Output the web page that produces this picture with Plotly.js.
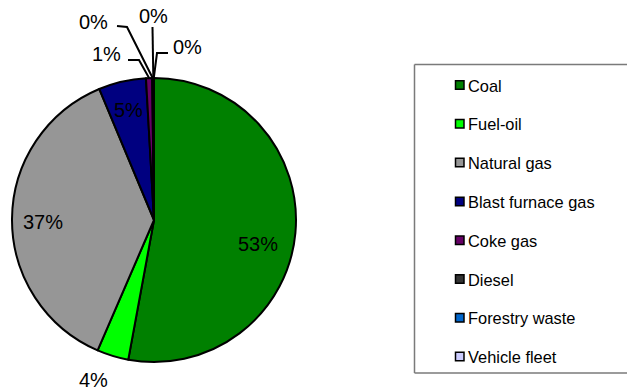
<!DOCTYPE html>
<html>
<head>
<meta charset="utf-8">
<script src="https://cdn.plot.ly/plotly-3.0.1.min.js"></script>
<style>
  html, body { margin: 0; padding: 0; background: #fff; overflow: hidden; }
  #chart { width: 627px; height: 391px; }
</style>
</head>
<body>
<div id="chart"></div>
<script>
// Energy sources and their share of consumption (%)
const fuels = ['Coal', 'Fuel-oil', 'Natural gas', 'Blast furnace gas', 'Coke gas', 'Diesel', 'Forestry waste', 'Vehicle fleet'];
const shares = [52.9, 3.6, 37.2, 5.4, 0.7, 0.1, 0.05, 0.05];
const fuelColors = ['#008000', '#00ff00', '#969696', '#000080', '#660066', '#333333', '#0066cc', '#ccccff'];

const W = 627, H = 391;
const FONT = 'Liberation Sans, Arial, Helvetica, sans-serif';

// pie geometry in pixels
const cx = 154, cy = 220, R = 142;
const px = x => x / W;
const py = y => 1 - y / H;

const total = shares.reduce((a, b) => a + b, 0);
const pctText = shares.map(v => Math.round(v / total * 100) + '%');

// point on the rim at the middle of each slice (clockwise from 12 o'clock)
let run = 0;
const rimPts = shares.map(v => {
  const a = 2 * Math.PI * (run + v / 2) / total;
  run += v;
  return [cx + R * Math.sin(a), cy - R * Math.cos(a)];
});

// where each percentage label sits, with elbow leader lines for thin slices
const labelPlace = [
  { x: 258, y: 244 },
  { x: 93,  y: 380 },
  { x: 43,  y: 222 },
  { x: 128, y: 110 },
  { x: 106, y: 54, leader: [[128, 60], [139, 60]] },
  { x: 94,  y: 22, leader: [[117, 26], [127, 27]] },
  { x: 153, y: 16, leader: [[152.5, 27]] },
  { x: 188, y: 47, leader: [[168, 53], [157, 53]] }
];

const toPath = pts => pts.map((q, k) => (k ? 'L' : 'M') + px(q[0]).toFixed(5) + ',' + py(q[1]).toFixed(5)).join(' ');

const annotations = [];
const shapes = [];

labelPlace.forEach((p, i) => {
  annotations.push({
    xref: 'paper', yref: 'paper', x: px(p.x), y: py(p.y),
    xanchor: 'center', yanchor: 'middle', showarrow: false,
    text: pctText[i], font: { family: FONT, size: 20, color: '#000' }
  });
  if (p.leader) {
    shapes.push({ type: 'path', xref: 'paper', yref: 'paper',
                  path: toPath(p.leader.concat([rimPts[i]])),
                  line: { color: '#000', width: 2 } });
  }
});

// legend frame: left, top and bottom edges (it runs off the right side)
const frame = { color: '#7a7a7a', width: 1.5 };
[[414.5, 64.5, 627, 64.5], [414.5, 373, 627, 373], [414.5, 64.5, 414.5, 373]].forEach(s => {
  shapes.push({ type: 'line', xref: 'paper', yref: 'paper',
    x0: px(s[0]), y0: py(s[1]), x1: px(s[2]), y1: py(s[3]), line: frame });
});

fuels.forEach((name, i) => {
  const yc = 85 + 38.8 * i;
  shapes.push({ type: 'rect', xref: 'paper', yref: 'paper',
    x0: px(455.5), x1: px(464), y0: py(yc - 4.25), y1: py(yc + 4.25),
    line: { color: '#000', width: 1.5 }, fillcolor: fuelColors[i] });
  annotations.push({
    xref: 'paper', yref: 'paper', x: px(465.5), y: py(yc + 0.5),
    xanchor: 'left', yanchor: 'middle', showarrow: false,
    text: name, font: { family: FONT, size: 16.4, color: '#000' }
  });
});

const trace = {
  type: 'pie',
  labels: fuels,
  values: shares,
  sort: false,
  direction: 'clockwise',
  rotation: 0,
  textinfo: 'none',
  hoverinfo: 'label+percent',
  marker: { colors: fuelColors, line: { color: '#000', width: 2 } },
  domain: { x: [px(cx - R), px(cx + R)], y: [py(cy + R), py(cy - R)] },
  showlegend: false
};

const layout = {
  width: W, height: H,
  margin: { l: 0, r: 0, t: 0, b: 0 },
  paper_bgcolor: '#fff',
  showlegend: false,
  annotations: annotations,
  shapes: shapes
};

Plotly.newPlot('chart', [trace], layout, { displayModeBar: false, staticPlot: true });
</script>
</body>
</html>
